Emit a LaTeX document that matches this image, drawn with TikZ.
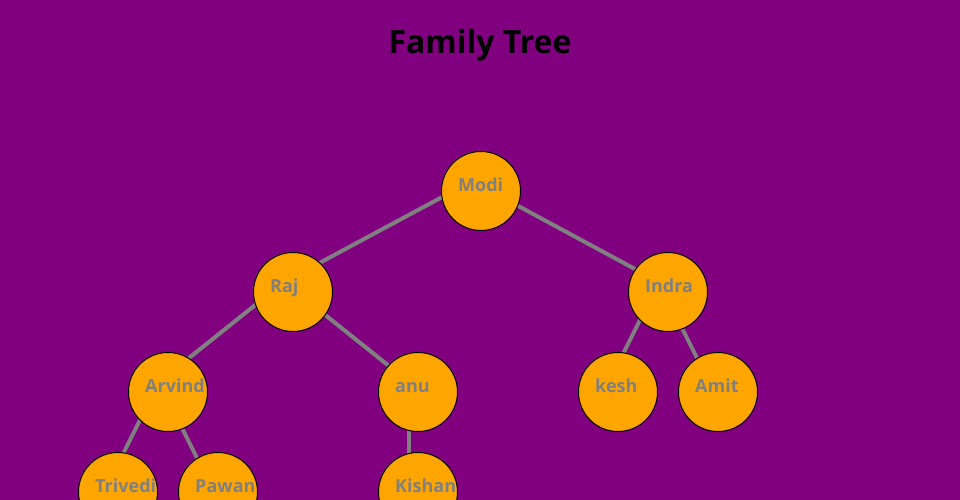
\documentclass[tikz,border=0pt]{standalone}
\usepackage{fontspec}
\setmainfont{Open Sans}
\usepackage{xcolor}
\usetikzlibrary{backgrounds}

\definecolor{treebg}{RGB}{128,0,128}
\definecolor{treeorange}{RGB}{255,165,0}
\definecolor{treegray}{RGB}{128,128,128}

\tikzset{
    person/.style={circle, draw=black, line width=1pt, fill=treeorange, minimum size=79pt, inner sep=0pt},
    personname/.style={anchor=base west, inner sep=0pt, text=treegray, font=\fontsize{18}{21}\selectfont\bfseries, xshift=-23pt},
    link/.style={draw=treegray, line width=4pt, transform canvas={xshift=-9pt, yshift=10pt}}
}

\begin{document}
\begin{tikzpicture}[x=1pt, y=-1pt]
        \useasboundingbox (0,0) rectangle (960,500);

        \node[anchor=base, inner sep=0pt, font=\fontsize{32}{38}\selectfont\bfseries] (title) at (480,54) {Family Tree};

        \node[person] (modi) at (481,191) {};
        \node[person] (raj) at (293,292) {};
        \node[person] (indra) at (668,292) {};
        \node[person] (arvind) at (168,392) {};
        \node[person] (anu) at (418,392) {};
        \node[person] (kesh) at (618,392) {};
        \node[person] (amit) at (718,392) {};
        \node[person] (trivedi) at (118,492) {};
        \node[person] (pawan) at (218,492) {};
        \node[person] (kishan) at (418,492) {};

        \node[personname] at (modi.center) {Modi};
        \node[personname] at (raj.center) {Raj};
        \node[personname] at (indra.center) {Indra};
        \node[personname] at (arvind.center) {Arvind};
        \node[personname] at (anu.center) {anu};
        \node[personname] at (kesh.center) {kesh};
        \node[personname] at (amit.center) {Amit};
        \node[personname] at (trivedi.center) {Trivedi};
        \node[personname] at (pawan.center) {Pawan};
        \node[personname] at (kishan.center) {Kishan};

        \begin{scope}[on background layer]
            \fill[treebg] (0,0) rectangle (960,500);% Background
            \draw[link] (modi.center) -- (raj.center);
            \draw[link] (modi.center) -- (indra.center);
            \draw[link] (raj.center) -- (arvind.center);
            \draw[link] (raj.center) -- (anu.center);
            \draw[link] (indra.center) -- (kesh.center);
            \draw[link] (indra.center) -- (amit.center);
            \draw[link] (arvind.center) -- (trivedi.center);
            \draw[link] (arvind.center) -- (pawan.center);
            \draw[link] (anu.center) -- (kishan.center);
        \end{scope}
    \end{tikzpicture}
\end{document}
